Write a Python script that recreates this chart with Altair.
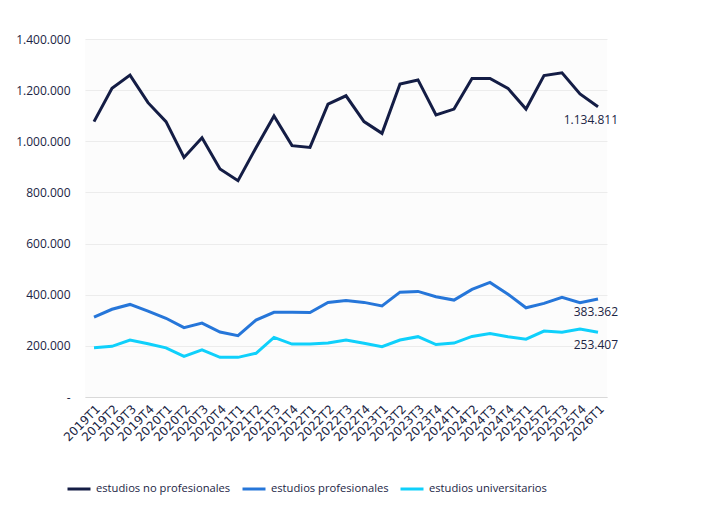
import altair as alt
import pandas as pd

quarters = ["2019T1", "2019T2", "2019T3", "2019T4", "2020T1", "2020T2", "2020T3", "2020T4",
            "2021T1", "2021T2", "2021T3", "2021T4", "2022T1", "2022T2", "2022T3", "2022T4",
            "2023T1", "2023T2", "2023T3", "2023T4", "2024T1", "2024T2", "2024T3", "2024T4",
            "2025T1", "2025T2", "2025T3", "2025T4", "2026T1"]

no_profesionales = [1077000, 1207000, 1259000, 1151000, 1077000, 937000, 1014000, 892000,
                    846000, 975000, 1099000, 983000, 976000, 1145000, 1178000, 1077000,
                    1031000, 1224000, 1240000, 1103000, 1126000, 1246000, 1246000, 1207000,
                    1126000, 1257000, 1268000, 1185000, 1134811]
profesionales = [312000, 343000, 362000, 336000, 308000, 271000, 289000, 254000,
                 240000, 301000, 331000, 331000, 330000, 370000, 377000, 370000,
                 356000, 410000, 413000, 392000, 379000, 421000, 448000, 402000,
                 349000, 366000, 390000, 369000, 383362]
universitarios = [193000, 198000, 223000, 208000, 192000, 159000, 184000, 155000,
                  155000, 171000, 233000, 207000, 207000, 211000, 223000, 210000,
                  197000, 223000, 236000, 205000, 211000, 237000, 248000, 236000,
                  226000, 258000, 253000, 266000, 253407]

series_names = ["estudios no profesionales", "estudios profesionales", "estudios universitarios"]
series_colors = ["#141d45", "#2676d9", "#0fd0fb"]
text_color = "#1c2545"

rows = []
for name, vals in zip(series_names, [no_profesionales, profesionales, universitarios]):
    for q, v in zip(quarters, vals):
        rows.append({"trimestre": q, "serie": name, "valor": v,
                     "etiqueta": f"{v:,}".replace(",", ".")})
df = pd.DataFrame(rows)
last_q = quarters[-1]

font = "Open Sans"

x = alt.X("trimestre:N", sort=quarters, title=None,
          scale=alt.Scale(type="point", padding=0.5),
          axis=alt.Axis(labelAngle=-45, labelFontSize=12, labelColor=text_color, labelFont="DejaVu Sans",
                        ticks=False, domainColor="#d9d9d9", domainWidth=1, grid=False,
                        labelPadding=6))
y = alt.Y("valor:Q", title=None,
          scale=alt.Scale(domain=[0, 1400000], nice=False),
          axis=alt.Axis(values=[0, 200000, 400000, 600000, 800000, 1000000, 1200000, 1400000],
                        labelExpr="datum.value == 0 ? '-' : replace(format(datum.value, ','), regexp(',', 'g'), '.')",
                        labelFontSize=12, labelColor=text_color, labelFont=font,
                        ticks=False, domain=False, gridColor="#ececec", labelPadding=15))
color = alt.Color("serie:N", sort=series_names,
                  scale=alt.Scale(domain=series_names, range=series_colors),
                  legend=alt.Legend(title=None, orient="none", direction="horizontal",
                                    legendX=-19, legendY=437,
                                    symbolType="stroke", symbolStrokeWidth=3, symbolSize=529,
                                    labelFontSize=11.2, labelColor=text_color, labelFont=font,
                                    columnPadding=5, labelOffset=4))

lines = alt.Chart(df).mark_line(strokeWidth=3).encode(x=x, y=y, color=color)

labels = alt.Chart(df).transform_filter(
    alt.datum.trimestre == last_q
).mark_text(align="right", baseline="middle", dx=20, dy=13, fontSize=12,
            font=font, color=text_color).encode(
    x=alt.X("trimestre:N", sort=quarters, scale=alt.Scale(type="point", padding=0.5)),
    y=alt.Y("valor:Q", scale=alt.Scale(domain=[0, 1400000], nice=False)),
    text="etiqueta:N")

chart = alt.layer(lines, labels).properties(
    width=522, height=358,
    autosize=alt.AutoSizeParams(type="none"),
    padding={"left": 85, "top": 39, "right": 100, "bottom": 117},
    background="white"
).configure_view(stroke=None, fill="#fcfcfc")

chart.save("out.html", embed_options={"renderer": "svg", "actions": False})
